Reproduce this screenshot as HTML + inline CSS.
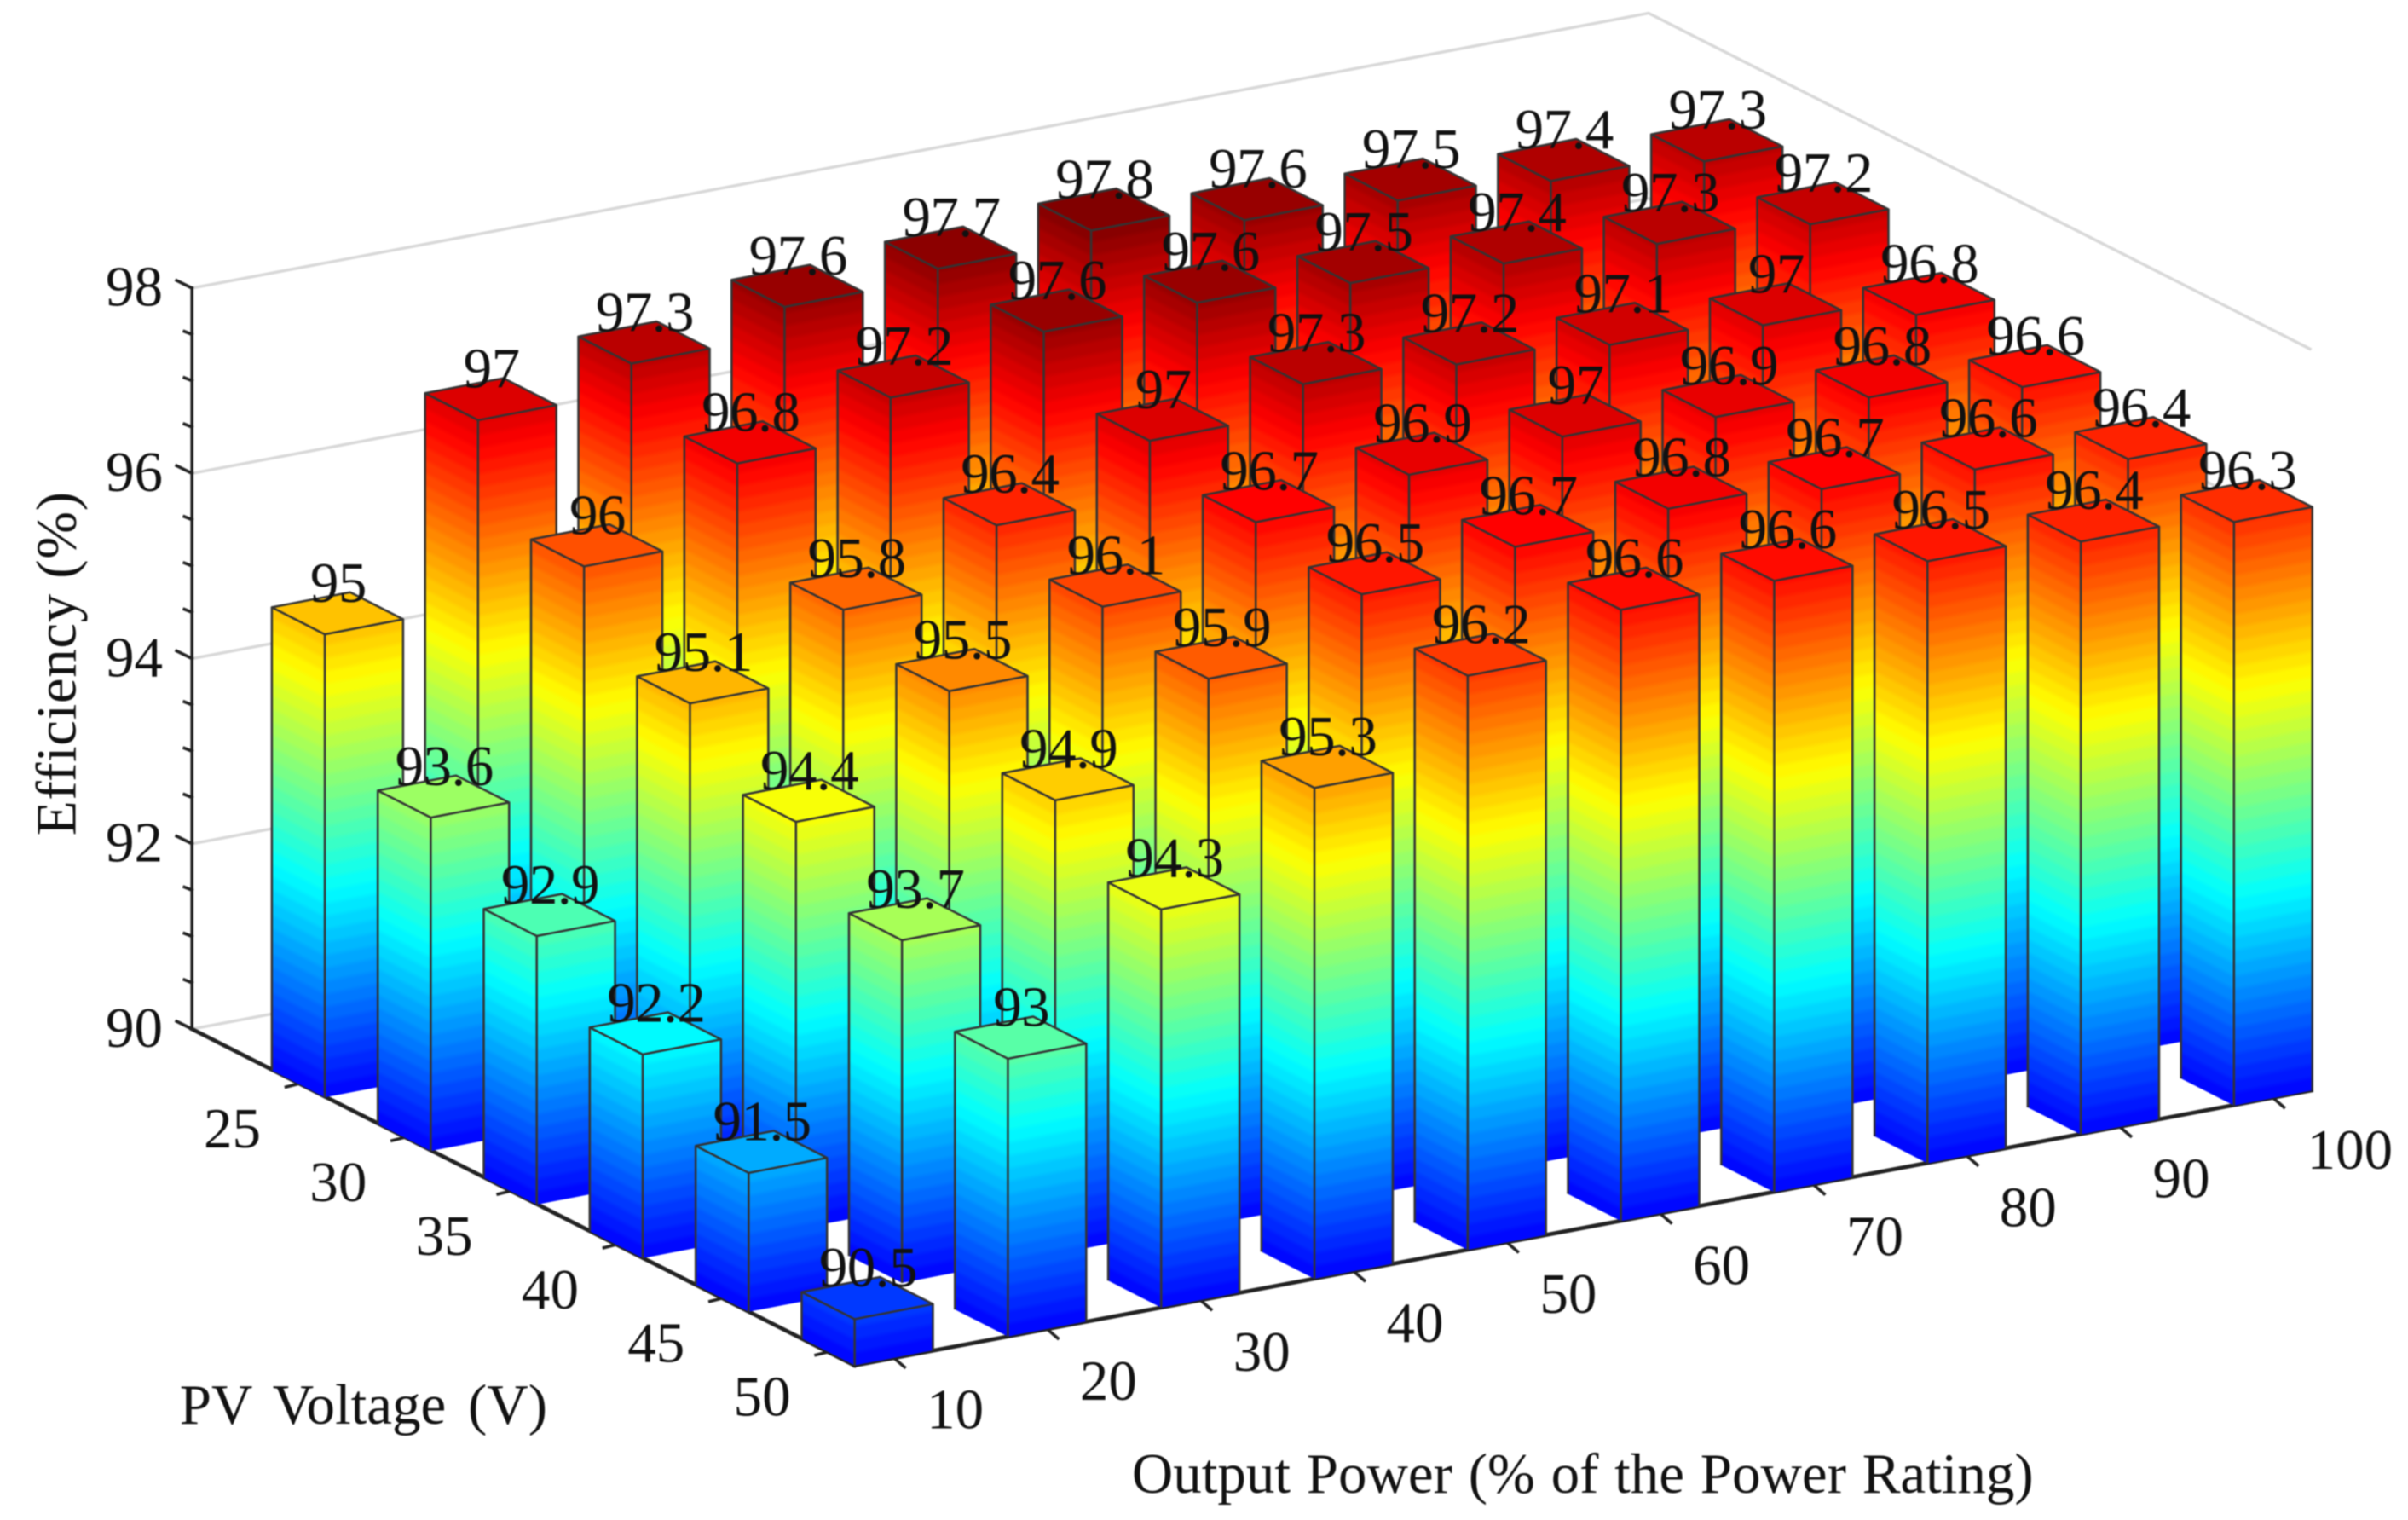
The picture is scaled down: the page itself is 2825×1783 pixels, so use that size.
<!DOCTYPE html>
<html lang="en">
<head>
<meta charset="utf-8">
<title>Efficiency 3D bar chart</title>
<style>
  html, body { margin: 0; padding: 0; background: #fff; width: 2825px; height: 1783px; overflow: hidden; }
  svg { display: block; filter: blur(0.8px); }
  text { font-family: "Liberation Serif", serif; fill: #111; }
</style>
</head>
<body>
<svg id="chart" xmlns="http://www.w3.org/2000/svg" width="2825" height="1783" viewBox="0 0 1568 989.65">
  <defs id="defs"></defs>
  <rect x="0" y="0" width="1568" height="990" fill="#ffffff"></rect>
  <g id="walls"></g>
  <g id="axes"></g>
  <g id="bars"></g>
  <g id="labels"></g>
  <g id="ticklabels"></g>
  <text font-size="37.2" letter-spacing="0.35" text-anchor="middle" transform="translate(49,432) rotate(-90)">Efficiency (%)</text>
  <text font-size="37.2" word-spacing="5" x="117" y="927">PV Voltage (V)</text>
  <text font-size="37.2" x="737" y="972" word-spacing="1.1">Output Power (% of the Power Rating)</text>
</svg>
<script>
// ---- chart data ----
const outputPower = [10, 20, 30, 40, 50, 60, 70, 80, 90, 100];
const pvVoltage = [50, 45, 40, 35, 30, 25];
const efficiency50V = [90.5, 93, 94.3, 95.3, 96.2, 96.6, 96.6, 96.5, 96.4, 96.3];
const efficiency45V = [91.5, 93.7, 94.9, 95.9, 96.5, 96.7, 96.8, 96.7, 96.6, 96.4];
const efficiency40V = [92.2, 94.4, 95.5, 96.1, 96.7, 96.9, 97, 96.9, 96.8, 96.6];
const efficiency35V = [92.9, 95.1, 95.8, 96.4, 97, 97.3, 97.2, 97.1, 97, 96.8];
const efficiency30V = [93.6, 96, 96.8, 97.2, 97.6, 97.6, 97.5, 97.4, 97.3, 97.2];
const efficiency25V = [95, 97, 97.3, 97.6, 97.7, 97.8, 97.6, 97.5, 97.4, 97.3];
const efficiencyTicks = [90, 92, 94, 96, 98];
const efficiencyMinorTicks = [90.5, 91, 91.5, 92.5, 93, 93.5, 94.5, 95, 95.5, 96.5, 97, 97.5];

const rows = [efficiency50V, efficiency45V, efficiency40V, efficiency35V, efficiency30V, efficiency25V];

// ---- projection ----
const NS = 'http://www.w3.org/2000/svg';
const ORIGIN = { x: 556.5, y: 889 };
const POWER_STEP = { x: 99.8, y: -18.8 };
const VOLT_STEP = { x: -69, y: -34.9 };
const BAR_W_POWER = { x: 51, y: -9.8 };
const BAR_W_VOLT = { x: -34.5, y: -17.6 };
const Z_UNIT = 60.3;
const Z_MIN = 90;
const Z_MAX = 98;
const AXIS_LEFT = { x: 125, y: 670 };
const AXIS_RIGHT = { x: 1505, y: 710 };

function zLift(z) { return (z - Z_MIN) * Z_UNIT; }
function floorPoint(i, j) {
  return { x: ORIGIN.x + i * POWER_STEP.x + j * VOLT_STEP.x,
           y: ORIGIN.y + i * POWER_STEP.y + j * VOLT_STEP.y };
}
function add(p, v, k) { const f = k === undefined ? 1 : k; return { x: p.x + v.x * f, y: p.y + v.y * f }; }
function up(p, h) { return { x: p.x, y: p.y - h }; }
function pts(list) { return list.map(p => p.x.toFixed(2) + ',' + p.y.toFixed(2)).join(' '); }

function jetChannel(v) { return Math.max(0, Math.min(1, v)); }
function jet(t) {
  const r = jetChannel(Math.min(4 * t - 1.5, -4 * t + 4.5));
  const g = jetChannel(Math.min(4 * t - 0.5, -4 * t + 3.5));
  const b = jetChannel(Math.min(4 * t + 0.5, -4 * t + 2.5));
  return 'rgb(' + Math.round(r * 255) + ',' + Math.round(g * 255) + ',' + Math.round(b * 255) + ')';
}
function colorAt(z) { return jet(0.125 + 0.112 * (z - Z_MIN)); }

function make(tag, attrs, parent) {
  const el = document.createElementNS(NS, tag);
  for (const k in attrs) el.setAttribute(k, attrs[k]);
  parent.appendChild(el);
  return el;
}

const defs = document.getElementById('defs');
const walls = document.getElementById('walls');
const axes = document.getElementById('axes');
const barsLayer = document.getElementById('bars');
const labelsLayer = document.getElementById('labels');
const tickLabels = document.getElementById('ticklabels');

// ---- banded colormap shared by all bar faces ----
const master = make('linearGradient', { id: 'jet-bands', gradientUnits: 'userSpaceOnUse' }, defs);


const BAND = 0.1395;
for (let k = 0; (Z_MIN + k * BAND) < Z_MAX; k++) {
  const z0 = Z_MIN + k * BAND;
  const z1 = Math.min(Z_MAX, z0 + BAND);
  const col = colorAt((z0 + z1) / 2);
  make('stop', { offset: ((z0 + BAND * 0.2 - Z_MIN) / (Z_MAX - Z_MIN)).toFixed(5), 'stop-color': col }, master);
  make('stop', { offset: ((z1 - BAND * 0.2 - Z_MIN) / (Z_MAX - Z_MIN)).toFixed(5), 'stop-color': col }, master);
}

let gradId = 0;
function faceGradient(base, edge) {
  const len = Math.hypot(edge.x, edge.y);
  const n = { x: -edge.y / len, y: edge.x / len };
  const h = zLift(Z_MAX);
  const d = n.y * (-h);
  const id = 'face-grad-' + (gradId++);
  const g = make('linearGradient', {
    id: id, href: '#jet-bands', gradientUnits: 'userSpaceOnUse',
    x1: base.x.toFixed(2), y1: base.y.toFixed(2),
    x2: (base.x + n.x * d).toFixed(2), y2: (base.y + n.y * d).toFixed(2)
  }, defs);
  
  
  return id;
}

// ---- walls ----
const xSpan = { x: AXIS_RIGHT.x - ORIGIN.x, y: AXIS_RIGHT.y - ORIGIN.y };
efficiencyTicks.forEach(z => {
  const a = up(AXIS_LEFT, zLift(z));
  const b = add(a, xSpan);
  const c = up(AXIS_RIGHT, zLift(z));
  const line = make('polyline', { points: pts([a, b, c]), fill: 'none', stroke: '#d8d8d8', 'stroke-width': 1.9 }, walls);
  
  
});

// ---- axes ----
function axisLine(a, b, w, name) {
  const l = make('line', { x1: a.x, y1: a.y, x2: b.x, y2: b.y, stroke: '#222', 'stroke-width': w, 'stroke-linecap': 'square' }, axes);
  
  
}
axisLine(up(AXIS_LEFT, zLift(Z_MAX)), AXIS_LEFT, 2, 'z-axis-line');
axisLine(AXIS_LEFT, ORIGIN, 2.6, 'voltage-axis-line');
axisLine(ORIGIN, AXIS_RIGHT, 2.6, 'power-axis-line');

efficiencyTicks.forEach(z => {
  const p = up(AXIS_LEFT, zLift(z));
  axisLine(p, { x: p.x - 10, y: p.y - 5 }, 2, 'z-major-tick');
  const t = make('text', { x: 106, y: p.y + 11.5, 'text-anchor': 'end', 'font-size': 37.2 }, tickLabels);
  
  
  t.textContent = String(z);
});
efficiencyMinorTicks.forEach(z => {
  const p = up(AXIS_LEFT, zLift(z));
  axisLine(p, { x: p.x - 5, y: p.y - 2 }, 2, 'z-minor-tick');
});

pvVoltage.forEach((v, j) => {
  const f = floorPoint(0, j);
  const p = add(f, BAR_W_VOLT, 0.5);
  axisLine(p, { x: p.x - 8, y: p.y + 2 }, 2, 'voltage-tick');
  const t = make('text', { x: p.x - 43, y: p.y + 41.5, 'text-anchor': 'middle', 'font-size': 37.2 }, tickLabels);
  
  
  t.textContent = String(v);
});

outputPower.forEach((w, i) => {
  const f = floorPoint(i, 0);
  const p = add(f, BAR_W_POWER, 0.5);
  axisLine(p, { x: p.x + 7, y: p.y + 6 }, 2, 'power-tick');
  const extra = String(w).length > 2 ? 10 : 0;
  const t = make('text', { x: p.x + 40 + extra, y: p.y + 46, 'text-anchor': 'middle', 'font-size': 37.2 }, tickLabels);
  
  
  t.textContent = String(w);
});

// ---- bars (back to front) ----
const EDGE = '#333333';
for (let j = rows.length - 1; j >= 0; j--) {
  for (let i = outputPower.length - 1; i >= 0; i--) {
    const value = rows[j][i];
    const h = zLift(value);
    const F = floorPoint(i, j);
    const L = add(F, BAR_W_VOLT);
    const R = add(F, BAR_W_POWER);
    const B = add(L, BAR_W_POWER);
    const Ft = up(F, h), Lt = up(L, h), Rt = up(R, h), Bt = up(B, h);

    const bar = make('g', {}, barsLayer);
    
    

    const leftFace = make('polygon', { points: pts([L, F, Ft, Lt]), fill: 'url(#' + faceGradient(F, BAR_W_VOLT) + ')' }, bar);
    
    

    const rightFace = make('polygon', { points: pts([F, R, Rt, Ft]), fill: 'url(#' + faceGradient(F, BAR_W_POWER) + ')' }, bar);
    
    

    const topFace = make('polygon', { points: pts([Ft, Rt, Bt, Lt]), fill: colorAt(value), stroke: EDGE, 'stroke-width': 1.4, 'stroke-linejoin': 'round' }, bar);
    
    

    const edges = make('path', {
      d: 'M' + L.x + ' ' + L.y + 'V' + Lt.y + 'M' + F.x + ' ' + F.y + 'V' + Ft.y + 'M' + R.x + ' ' + R.y + 'V' + Rt.y,
      fill: 'none', stroke: EDGE, 'stroke-width': 1.4
    }, bar);
    
    

    const cx = (Lt.x + Rt.x) / 2;
    const cy = (Lt.y + Rt.y) / 2;
    const label = make('text', { x: (cx + 0.5).toFixed(2), y: (cy - 7.5).toFixed(2), 'text-anchor': 'middle', 'font-size': 37.2, 'letter-spacing': '-0.3' }, labelsLayer);
    
    
    label.textContent = String(value);
  }
}
</script>
</body>
</html>
